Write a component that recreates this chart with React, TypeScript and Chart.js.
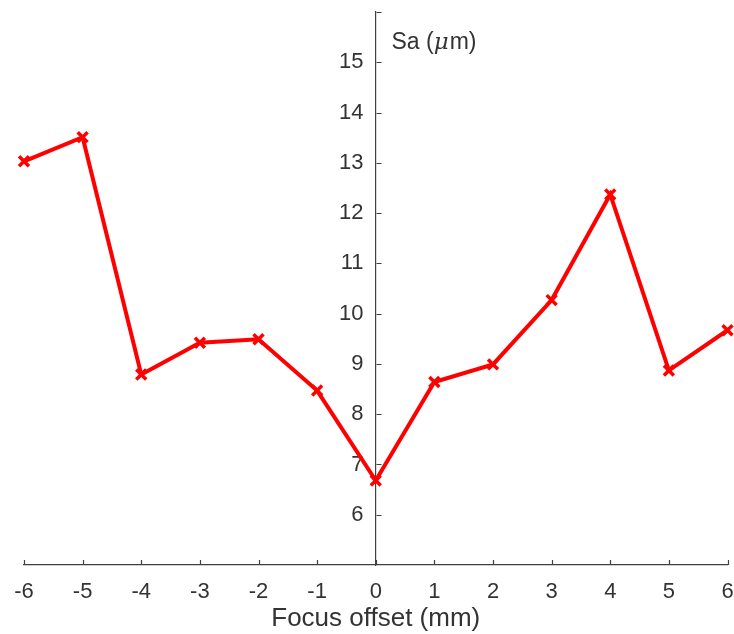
import React, { useEffect, useRef } from "react";
import { Chart, registerables } from "chart.js";

Chart.register(...registerables);

const focusOffsets = [-6, -5, -4, -3, -2, -1, 0, 1, 2, 3, 4, 5, 6];
const saValues = [13.03, 13.51, 8.79, 9.42, 9.49, 8.47, 6.68, 8.64, 8.99, 10.27, 12.37, 8.87, 9.67];
const yTickValues = [6, 7, 8, 9, 10, 11, 12, 13, 14, 15];
const xTitle = "Focus offset (mm)";
const yLabelParts = ["Sa (", "\u03bc", "m)"];

const Y_MIN = 5;
const Y_MAX = 16;
const AXIS_COLOR = "#404040";
const TEXT_COLOR = "#333333";
const FONT = "'Liberation Sans', Arial, Helvetica, sans-serif";

const axisDecor = {
  id: "axisDecor",
  afterDraw(chart: any) {
    const ctx = chart.ctx;
    const xs = chart.scales.x;
    const ys = chart.scales.y;
    const x0 = Math.round(xs.getPixelForValue(0)) + 0.5;
    const yb = ys.getPixelForValue(Y_MIN);
    ctx.save();
    ctx.strokeStyle = AXIS_COLOR;
    ctx.lineWidth = 1.2;
    ctx.beginPath();
    focusOffsets.forEach((v) => {
      const px = Math.round(xs.getPixelForValue(v)) + 0.5;
      ctx.moveTo(px, yb);
      ctx.lineTo(px, yb - 5);
    });
    [...yTickValues, Y_MAX].forEach((v) => {
      const py = Math.round(ys.getPixelForValue(v)) + 0.5;
      ctx.moveTo(x0, py);
      ctx.lineTo(x0 + 5, py);
    });
    ctx.stroke();

    // y label inside top
    const ly = ys.getPixelForValue(Y_MAX) + 31;
    let lx = x0 + 15;
    ctx.fillStyle = TEXT_COLOR;
    ctx.textBaseline = "middle";
    ctx.textAlign = "left";
    ctx.font = `23px ${FONT}`;
    ctx.fillText(yLabelParts[0], lx, ly);
    lx += ctx.measureText(yLabelParts[0]).width;
    ctx.font = `italic 23px 'DejaVu Serif', serif`;
    ctx.fillText(yLabelParts[1], lx, ly);
    lx += ctx.measureText(yLabelParts[1]).width + 1;
    ctx.font = `23px ${FONT}`;
    ctx.fillText(yLabelParts[2], lx, ly);
    ctx.restore();
  },
};

const CANVAS_W = 738;
const CANVAS_H = 634;

export default function App() {
  const ref = useRef<HTMLCanvasElement>(null);
  useEffect(() => {
    if (!ref.current) return;
    const chart = new Chart(ref.current, {
      type: "line",
      data: {
        datasets: [
          {
            data: focusOffsets.map((x, i) => ({ x, y: saValues[i] })),
            borderColor: "#ff0000",
            backgroundColor: "#ff0000",
            borderWidth: 4,
            pointStyle: "crossRot",
            pointRadius: 7,
            pointBorderWidth: 3.5,
            pointBorderColor: "#ff0000",
            tension: 0,
            clip: false as any,
          },
        ],
      },
      options: {
        responsive: false,
        animation: false,
        devicePixelRatio: 1,
        layout: { padding: { left: 24, right: 0, top: 12, bottom: 0 } },
        plugins: { legend: { display: false }, tooltip: { enabled: false } },
        scales: {
          x: {
            type: "linear",
            position: "bottom",
            min: -6,
            max: 6,
            grid: { display: false, drawTicks: false },
            border: { display: true, color: AXIS_COLOR, width: 1.2 },
            ticks: {
              stepSize: 1,
              color: TEXT_COLOR,
              font: { family: FONT, size: 22 },
              padding: 14,
              maxRotation: 0,
            },
            title: {
              display: true,
              text: xTitle,
              color: TEXT_COLOR,
              font: { family: FONT, size: 26 },
              padding: { top: 0, bottom: 0 },
            },
            afterFit: (scale: any) => {
              scale.height = 69;
              scale.paddingLeft = 0;
              scale.paddingRight = 0;
            },
          },
          y: {
            type: "linear",
            position: { x: 0 } as any,
            min: Y_MIN,
            max: Y_MAX,
            grid: { display: false, drawTicks: false },
            border: { display: true, color: AXIS_COLOR, width: 1.2 },
            ticks: {
              stepSize: 1,
              color: TEXT_COLOR,
              font: { family: FONT, size: 22 },
              padding: 12,
              callback: (v: any) => `${v}  `,
            },
            afterBuildTicks: (scale: any) => {
              scale.ticks = yTickValues.map((v) => ({ value: v }));
            },
            afterFit: (scale: any) => {
              scale.paddingTop = 0;
              scale.paddingBottom = 0;
              scale.paddingLeft = 0;
              scale.paddingRight = 0;
            },
          },
        },
      },
      plugins: [axisDecor],
    });
    return () => chart.destroy();
  }, []);
  return (
    <div style={{ position: "absolute", left: 0, top: 0, width: 734, height: 634, overflow: "hidden", background: "#fff" }}>
      <canvas ref={ref} width={CANVAS_W} height={CANVAS_H} style={{ width: CANVAS_W, height: CANVAS_H, display: "block" }} />
    </div>
  );
}
